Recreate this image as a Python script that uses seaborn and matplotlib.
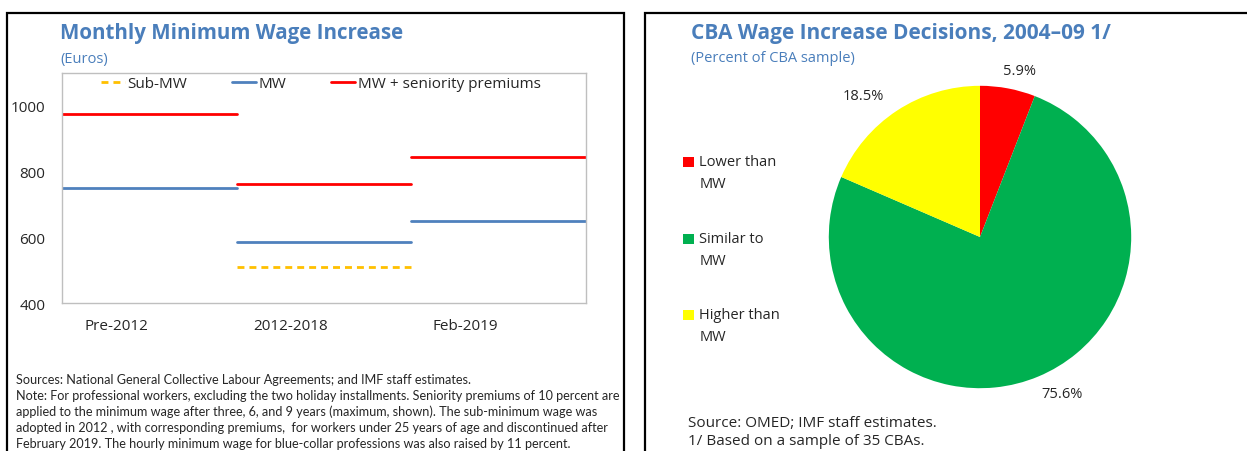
import matplotlib
matplotlib.use('Agg')
import matplotlib.pyplot as plt
import seaborn as sns
import numpy as np
from pandas import DataFrame
from matplotlib.patches import Rectangle
from matplotlib.legend_handler import HandlerPatch


# left panel: monthly minimum wage (euros)
periods = ['Pre-2012', '2012-2018', 'Feb-2019']
sub_mw = [None, 511, None]
mw = [751, 586, 650]
mw_seniority = [976, 762, 845]
series_names = ['Sub-MW', 'MW', 'MW + seniority premiums']
series_colors = ['#FFC000', '#4F81BD', '#FF0000']

# right panel: CBA decisions (percent of sample)
cba_labels = ['Lower than\nMW', 'Similar to\nMW', 'Higher than\nMW']
cba_shares = [5.9, 75.6, 18.5]
cba_colors = ['#FF0000', '#00B050', '#FFFF00']

left_note = ('Sources: National General Collective Labour Agreements; and IMF staff estimates.\n'
             'Note: For professional workers, excluding the two holiday installments. Seniority premiums of 10 percent are\n'
             'applied to the minimum wage after three, 6, and 9 years (maximum, shown). The sub-minimum wage was\n'
             'adopted in 2012 , with corresponding premiums,  for workers under 25 years of age and discontinued after\n'
             'February 2019. The hourly minimum wage for blue-collar professions was also raised by 11 percent.')
right_note = 'Source: OMED; IMF staff estimates.\n1/ Based on a sample of 35 CBAs.'

TITLE_COLOR = '#4A7EBB'
W, H = 1247, 452


def fx(px):
    return px / W


def fy(py):
    return 1 - py / H


def top_square(legend, orig_handle, xdescent, ydescent, width, height, fontsize):
    # put the colour box next to the first line of a two-line label
    return Rectangle((-xdescent, -ydescent + 0.75 * fontsize), width, height)


sns.set_theme(style='white')
plt.rcParams['font.family'] = ['Open Sans', 'DejaVu Sans']

fig = plt.figure(figsize=(W / 100, H / 100), dpi=100)

# panel borders
fig.add_artist(Rectangle((fx(7), -0.2), fx(624 - 7), fy(14) + 0.2, transform=fig.transFigure,
                         fill=False, edgecolor='black', linewidth=1.6, clip_on=False))
fig.add_artist(Rectangle((fx(645), -0.2), 0.5, fy(14) + 0.2, transform=fig.transFigure,
                         fill=False, edgecolor='black', linewidth=1.6, clip_on=False))

# ---- left panel ----
rows = []
for name, values in zip(series_names, [sub_mw, mw, mw_seniority]):
    for i, v in enumerate(values):
        if v is None:
            continue
        rows.append({'series': name, 'segment': f'{name}-{i}', 'x': i, 'value': v})
        rows.append({'series': name, 'segment': f'{name}-{i}', 'x': i + 1, 'value': v})
df = DataFrame(rows)

ax = fig.add_axes([fx(62), fy(304), fx(586 - 62), (304 - 74) / H])
sns.lineplot(data=df, x='x', y='value', hue='series', style='series', units='segment',
             estimator=None, hue_order=series_names, style_order=series_names,
             palette=dict(zip(series_names, series_colors)),
             dashes={'Sub-MW': (2.5, 1.8), 'MW': '', 'MW + seniority premiums': ''},
             linewidth=2, ax=ax)

ax.set_xlim(0, len(periods))
ax.set_ylim(400, 1100)
ax.set_yticks([400, 600, 800, 1000])
ax.set_xticks([1, 2])
ax.set_xticklabels([])
ax.set_xticks(np.arange(len(periods)) + 0.31, minor=True)
ax.set_xticklabels(periods, minor=True)
ax.tick_params(axis='x', which='major', direction='in', length=5, color='#BFBFBF', width=1)
ax.tick_params(axis='x', which='minor', length=0, pad=11, labelsize=11)
ax.tick_params(axis='y', direction='in', length=4, color='#BFBFBF', width=1, pad=12, labelsize=11)
ax.set_xlabel('')
ax.set_ylabel('')
for s in ax.spines.values():
    s.set_color('#BFBFBF')
    s.set_linewidth(1)

handles, labels = ax.get_legend_handles_labels()
ax.legend(handles, labels, loc='center left', bbox_to_anchor=((101 - 62) / 524, 1 - 11 / 230),
          ncol=3, frameon=False, fontsize=11, handlelength=1.6, handletextpad=0.15,
          columnspacing=2.9, borderpad=0, borderaxespad=0)

fig.text(fx(60), fy(34), 'Monthly Minimum Wage Increase', fontsize=14.8, fontweight='bold',
         color=TITLE_COLOR, va='center', ha='left')
fig.text(fx(60), fy(59), '(Euros)', fontsize=10.5, color=TITLE_COLOR, va='center', ha='left')
fig.text(fx(16), fy(374), left_note, fontsize=9.1, va='top', ha='left', linespacing=1.38,
         family=['Lato', 'DejaVu Sans'])

# ---- right panel ----
axp = fig.add_axes([fx(980 - 189), fy(238 + 189), fx(378), 378 / H])
wedges, _ = axp.pie(cba_shares, colors=cba_colors, startangle=90, counterclock=False,
                    radius=1, wedgeprops=dict(linewidth=0))
axp.set_xlim(-1.25, 1.25)
axp.set_ylim(-1.25, 1.25)
for w, share in zip(wedges, cba_shares):
    mid = np.deg2rad((w.theta1 + w.theta2) / 2)
    axp.text(1.4 * np.cos(mid), 1.12 * np.sin(mid), f'{share}%', ha='center', va='center',
             fontsize=10.5)

leg = fig.legend(wedges, cba_labels, loc='upper left', bbox_to_anchor=(fx(676), fy(148)),
                 frameon=False, fontsize=10.5, handlelength=0.7, handleheight=0.7,
                 handletextpad=0.4, labelspacing=2.7, borderpad=0,
                 handler_map={w: HandlerPatch(patch_func=top_square) for w in wedges})
for t in leg.get_texts():
    t.set_linespacing(1.65)

fig.text(fx(691), fy(34), 'CBA Wage Increase Decisions, 2004\u201309 1/', fontsize=15,
         fontweight='bold', color=TITLE_COLOR, va='center', ha='left')
fig.text(fx(691), fy(59), '(Percent of CBA sample)', fontsize=10.5, color=TITLE_COLOR,
         va='center', ha='left')
fig.text(fx(688), fy(416), right_note, fontsize=11, va='top', ha='left', linespacing=1.3)

fig.savefig('out.png', dpi=100)
